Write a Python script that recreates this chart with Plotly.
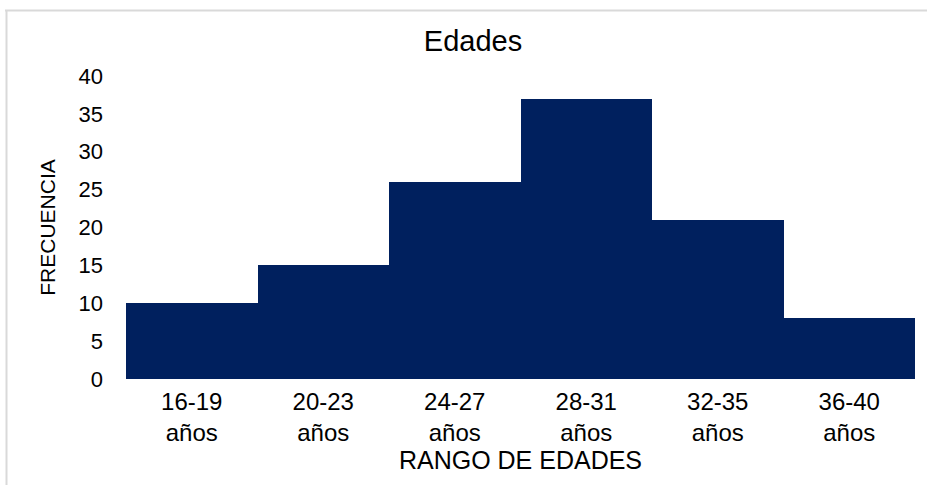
import plotly.graph_objects as go

# Age-range histogram data
rangos = ["16-19<br>años", "20-23<br>años", "24-27<br>años",
          "28-31<br>años", "32-35<br>años", "36-40<br>años"]
frecuencias = [10, 15, 26, 37, 21, 8]
y_ticks = [0, 5, 10, 15, 20, 25, 30, 35, 40]

FONT = "Liberation Sans, Arial, sans-serif"
W, H = 927, 485
ML, MR, MT, MB = 126, 12, 76, 106
PW, PH = W - ML - MR, H - MT - MB

fig = go.Figure(
    go.Bar(
        x=rangos,
        y=frecuencias,
        marker=dict(color="#00205E", line=dict(width=0)),
        width=1,
    )
)

# Chart-area frame (top and left edges)
def px_to_paper_x(px):
    return (px - ML) / PW

def px_to_paper_y(py):
    return (H - MB - py) / PH

frame = dict(type="line", xref="paper", yref="paper",
             line=dict(color="#d9d9d9", width=2))
fig.add_shape(**frame, x0=px_to_paper_x(5), x1=px_to_paper_x(927),
              y0=px_to_paper_y(10.5), y1=px_to_paper_y(10.5))
fig.add_shape(**frame, x0=px_to_paper_x(6.5), x1=px_to_paper_x(6.5),
              y0=px_to_paper_y(10), y1=px_to_paper_y(485))

fig.update_layout(
    width=W, height=H,
    margin=dict(l=ML, r=MR, t=MT, b=MB),
    paper_bgcolor="white",
    plot_bgcolor="white",
    bargap=0,
    showlegend=False,
    font=dict(family=FONT, color="#000000"),
    title=dict(text="Edades", x=473 / W, xanchor="center",
               y=1 - 41 / H, yanchor="middle",
               font=dict(size=29, family=FONT, color="#000000")),
    xaxis=dict(
        title=dict(text="RANGO DE EDADES", font=dict(size=25), standoff=2),
        tickfont=dict(size=24),
        showgrid=False, zeroline=False, showline=False,
        ticks="",
        ticklabelstandoff=6,
    ),
    yaxis=dict(
        title=dict(text="FRECUENCIA", font=dict(size=21), standoff=17),
        range=[0, 40],
        tickvals=y_ticks,
        tickfont=dict(size=22),
        showgrid=False, zeroline=False, showline=False,
        ticks="",
        ticklabelstandoff=22,
    ),
)

fig.write_html("out.html")
